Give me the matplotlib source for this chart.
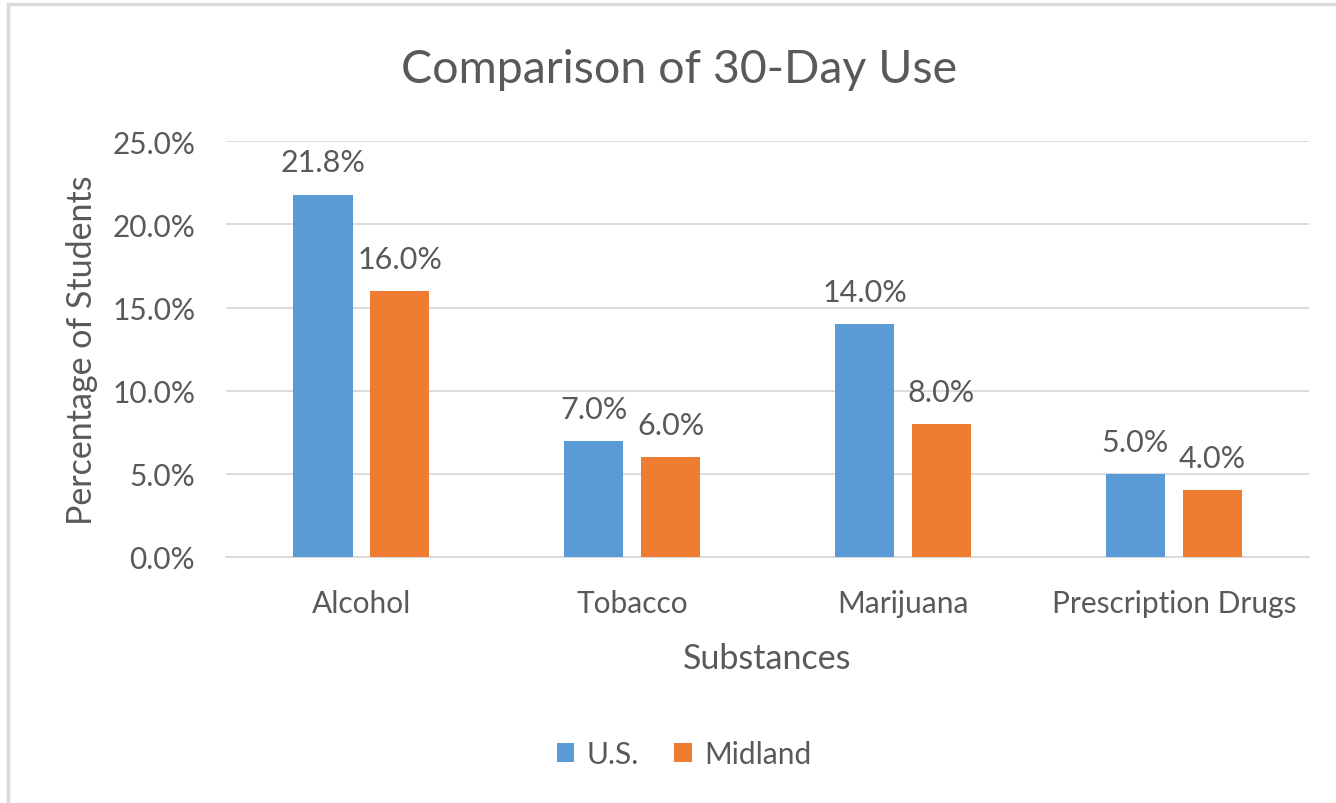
import numpy as np
import matplotlib.pyplot as plt
from matplotlib.patches import Rectangle
from matplotlib.ticker import FuncFormatter

plt.rcParams['font.family'] = ['Lato', 'DejaVu Sans']

# Data
categories = ['Alcohol', 'Tobacco', 'Marijuana', 'Prescription Drugs']
us_values = [21.8, 7.0, 14.0, 5.0]
midland_values = [16.0, 6.0, 8.0, 4.0]

text_color = '#595959'
blue = '#5B9BD5'
orange = '#ED7D31'

fig = plt.figure(figsize=(13.36, 8.04), dpi=100)
ax = fig.add_axes([0.169, 0.306, 0.811, 0.517])

# chart area frame
fig.patches.append(Rectangle((0.006, -0.01), 1.2, 1.004, transform=fig.transFigure,
                             fill=False, edgecolor='#D9D9D9', linewidth=2.5))

x = np.arange(len(categories))
bar_width = 0.22
offset = 0.142

b1 = ax.bar(x - offset, us_values, width=bar_width, color=blue, label='U.S.', zorder=3)
b2 = ax.bar(x + offset, midland_values, width=bar_width, color=orange, label='Midland', zorder=3)

for bars in (b1, b2):
    for bar in bars:
        h = bar.get_height()
        ax.annotate(f'{h:.1f}%', (bar.get_x() + bar.get_width() / 2, h),
                    xytext=(0, 13), textcoords='offset points',
                    ha='center', va='bottom', fontsize=22, color=text_color)

ax.set_xlim(-0.5, len(categories) - 0.5)
ax.set_ylim(0, 25)
ax.set_yticks(np.arange(0, 26, 5))
ax.yaxis.set_major_formatter(FuncFormatter(lambda v, p: f'{v:.1f}%'))
ax.set_xticks(x)
ax.set_xticklabels(categories)
ax.tick_params(axis='both', length=0, labelcolor=text_color)
ax.tick_params(axis='y', labelsize=21.5, pad=22)
ax.tick_params(axis='x', labelsize=21.5, pad=23)

ax.grid(axis='y', color='#D9D9D9', linewidth=1.3, zorder=0)
for s in ['top', 'right', 'left']:
    ax.spines[s].set_visible(False)
ax.spines['bottom'].set_color('#D9D9D9')
ax.spines['bottom'].set_linewidth(1.3)

ax.set_xlabel('Substances', fontsize=24.5, color=text_color, labelpad=18)
ax.set_ylabel('Percentage of Students', fontsize=24.5, color=text_color, labelpad=10)
fig.text(0.508, 0.913, 'Comparison of 30-Day Use', ha='center', va='center',
         fontsize=33.5, color=text_color)

fig.legend(handles=[b1, b2], loc='center', bbox_to_anchor=(0.512, 0.061), ncol=2,
           frameon=False, fontsize=21.5, labelcolor=text_color, handlelength=0.6,
           handleheight=0.6, handletextpad=0.4, columnspacing=1.2)

fig.savefig('out.png', dpi=100, facecolor='white')
